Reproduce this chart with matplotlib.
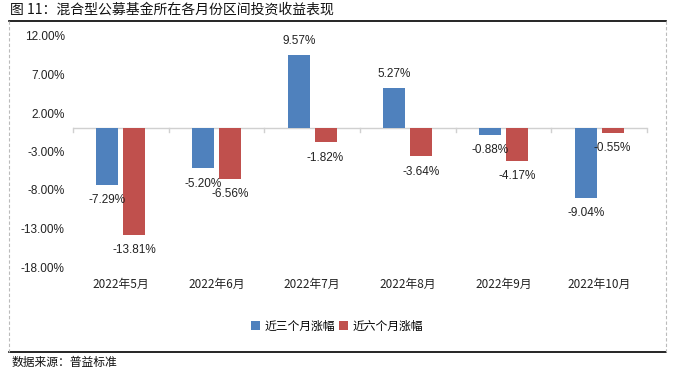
import matplotlib.pyplot as plt
import numpy as np
from matplotlib.lines import Line2D

plt.rcParams['font.family'] = ['Noto Sans CJK SC', 'DejaVu Sans']
plt.rcParams['axes.unicode_minus'] = False

months = ["2022年5月", "2022年6月", "2022年7月", "2022年8月", "2022年9月", "2022年10月"]
three_month = [-7.29, -5.20, 9.57, 5.27, -0.88, -9.04]
six_month = [-13.81, -6.56, -1.82, -3.64, -4.17, -0.55]
series_names = ["近三个月涨幅", "近六个月涨幅"]
yticks = [12, 7, 2, -3, -8, -13, -18]

BLUE = "#4F81BD"
RED = "#C0504D"
TXT = "#222222"

fig = plt.figure(figsize=(6.74, 3.74), dpi=100)
ax = fig.add_axes([73 / 674, 1 - 267 / 374, 574 / 674, 231 / 374])

x = np.arange(len(months))
w = 0.23
off = 0.14
ax.bar(x - off, three_month, width=w, color=BLUE, label=series_names[0], zorder=3)
ax.bar(x + off, six_month, width=w, color=RED, label=series_names[1], zorder=3)

# value labels above positive / below negative bars
for xs, vals in [(x - off, three_month), (x + off, six_month)]:
    for xi, v in zip(xs, vals):
        dy = 10 if v >= 0 else -11
        ax.annotate(f"{v:.2f}%", (xi, v), xytext=(0, dy), textcoords="offset points",
                    ha="center", va="center", fontsize=8.5, color=TXT,
                    family=["Liberation Sans", "DejaVu Sans"])

ax.set_xlim(-0.5, len(months) - 0.5)
ax.set_ylim(-18, 12)
ax.set_yticks(yticks)
ax.set_yticklabels([f"{t:.2f}%" for t in yticks], fontsize=8.5, color=TXT,
                   family=["Liberation Sans", "DejaVu Sans"])
ax.tick_params(axis="y", length=0, pad=6)

for s in ["top", "right", "left", "bottom"]:
    ax.spines[s].set_visible(False)
ax.axhline(0, color="#D0D0D0", lw=1, zorder=2)
for b in np.arange(-0.5, len(months), 1.0):
    ax.plot([b, b], [0, -0.45], color="#D0D0D0", lw=1, zorder=2, clip_on=False)

ax.set_xticks(x)
ax.set_xticklabels(months, fontsize=8.5, color=TXT)
ax.tick_params(axis="x", length=0, pad=8)

fig.legend(loc="center", bbox_to_anchor=(337 / 674, 1 - 326 / 374), ncol=2, frameon=False,
           fontsize=8.5, handlelength=0.8, handleheight=0.8, handletextpad=0.4, columnspacing=0.3)

fig.text(10 / 674, 1 - 10 / 374, "图 11：混合型公募基金所在各月份区间投资收益表现",
         fontsize=10, va="center", ha="left", color="#111111")
fig.text(12 / 674, 1 - 362 / 374, "数据来源：普益标准",
         fontsize=8.5, va="center", ha="left", color="#111111")

fig.add_artist(Line2D([9 / 674, 666 / 674], [1 - 21 / 374, 1 - 21 / 374], color="black", lw=1.2))
fig.add_artist(Line2D([9 / 674, 666 / 674], [1 - 352 / 374, 1 - 352 / 374], color="black", lw=1.2))
fig.add_artist(Line2D([9 / 674, 9 / 674], [1 - 21 / 374, 1 - 352 / 374], color="#BBBBBB", lw=0.8, ls=(0, (3, 2))))
fig.add_artist(Line2D([666 / 674, 666 / 674], [1 - 21 / 374, 1 - 352 / 374], color="#BBBBBB", lw=0.8, ls=(0, (3, 2))))

fig.savefig("out.png", dpi=100)
